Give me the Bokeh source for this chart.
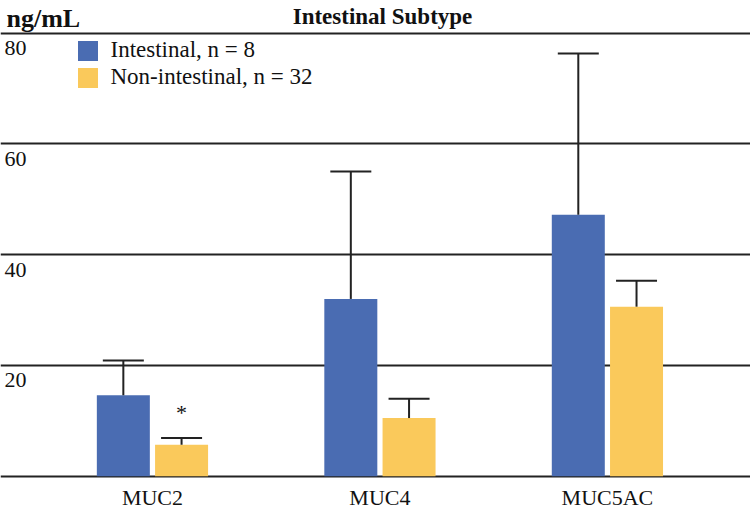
from bokeh.plotting import figure
from bokeh.models import (ColumnDataSource, Range1d, Grid, FixedTicker, Whisker,
                          TeeHead, Label, Legend, LegendItem)
from bokeh.transform import dodge
from bokeh.core.properties import value
from bokeh.embed import file_html
from bokeh.resources import INLINE

# ---- data ----
categories = ["MUC2", "MUC4", "MUC5AC"]
intestinal_mean = [14.6, 32.0, 47.2]
intestinal_upper = [20.9, 55.0, 76.3]
nonintestinal_mean = [5.7, 10.5, 30.6]
nonintestinal_upper = [6.9, 14.0, 35.3]
significance = ["*", "", ""]
grid_values = [0, 20, 40, 60, 80]
tick_values = [20, 40, 60, 80]
tick_labels = ["20", "40", "60", "80"]
series_labels = ["Intestinal, n = 8", "Non-intestinal, n = 32"]
title_text = "Intestinal Subtype"
unit_text = "ng/mL"

# ---- style ----
BLUE = "#4a6cb2"
YELLOW = "#fac95b"
LINE = "#222222"
TEXT = "#111111"
SERIF = "Liberation Serif"
W, H = 750, 511
OFF = 0.128
BAR_W = 0.233

positions = list(range(len(categories)))
src = ColumnDataSource(dict(
    x=positions, cat=categories,
    base=[0] * len(categories),
    im=intestinal_mean, iu=intestinal_upper,
    nm=nonintestinal_mean, nu=nonintestinal_upper,
    sig=significance,
))

x_range = Range1d(-0.668, 2.629)
y_range = Range1d(-6.37, 85.87)

p = figure(width=W, height=H, x_range=x_range, y_range=y_range,
           x_axis_location=None, y_axis_location=None,
           toolbar_location=None, output_backend="svg",
           min_border=0, outline_line_color=None,
           background_fill_color="white", border_fill_color="white")
p.xgrid.visible = False
p.ygrid.visible = False

grid = Grid(dimension=1, ticker=FixedTicker(ticks=grid_values),
            grid_line_color=LINE, grid_line_width=2)
p.add_layout(grid)

r1 = p.vbar(x=dodge("x", -OFF), top="im", bottom=0, width=BAR_W, source=src,
            fill_color=BLUE, line_color=None)
r2 = p.vbar(x=dodge("x", OFF), top="nm", bottom=0, width=BAR_W, source=src,
            fill_color=YELLOW, line_color=None)

for off, lo, up in [(-OFF, "im", "iu"), (OFF, "nm", "nu")]:
    w = Whisker(base=dodge("x", off), lower=lo, upper=up, source=src,
                dimension="height", line_color=LINE, line_width=2,
                lower_head=None,
                upper_head=TeeHead(size=41, line_color=LINE, line_width=2),
                level="glyph")
    p.add_layout(w)

# significance marks
p.text(x=dodge("x", OFF), y="nu", text="sig", source=src,
       text_font=value(SERIF), text_font_size="22px", text_color=TEXT,
       text_align="center", text_baseline="alphabetic", y_offset=-25)

# category labels below baseline
p.text(x="x", y="base", text="cat", source=src,
       text_font=value(SERIF), text_font_size="22px", text_color=TEXT,
       text_align="center", text_baseline="top", y_offset=9)

# y tick labels under their grid lines
tsrc = ColumnDataSource(dict(x=[x_range.start] * len(tick_values),
                             y=tick_values, t=tick_labels))
p.text(x="x", y="y", text="t", source=tsrc,
       text_font=value(SERIF), text_font_size="22px", text_color=TEXT,
       text_align="left", text_baseline="top", x_offset=4, y_offset=8)

# titles
p.add_layout(Label(x=382, y=H - 15.7, x_units="screen", y_units="screen",
                   text=title_text, text_font=SERIF, text_font_size="23px",
                   text_font_style="bold", text_align="center",
                   text_baseline="alphabetic", text_color=TEXT))
p.add_layout(Label(x=6, y=H - 18.3, x_units="screen", y_units="screen",
                   text=unit_text, text_font=SERIF, text_font_size="26px",
                   text_font_style="bold", text_align="left",
                   text_baseline="alphabetic", text_color=TEXT))

legend = Legend(items=[LegendItem(label=series_labels[0], renderers=[r1]),
                       LegendItem(label=series_labels[1], renderers=[r2])],
                location=(74.5, 420.5), orientation="vertical",
                glyph_width=25, glyph_height=25, label_height=27,
                label_standoff=11, spacing=0, padding=0, margin=0,
                border_line_color=None, background_fill_alpha=0,
                label_text_font=SERIF, label_text_font_size="23px",
                label_text_color=TEXT)
p.add_layout(legend)

open("out.html", "w").write(file_html(p, INLINE))
